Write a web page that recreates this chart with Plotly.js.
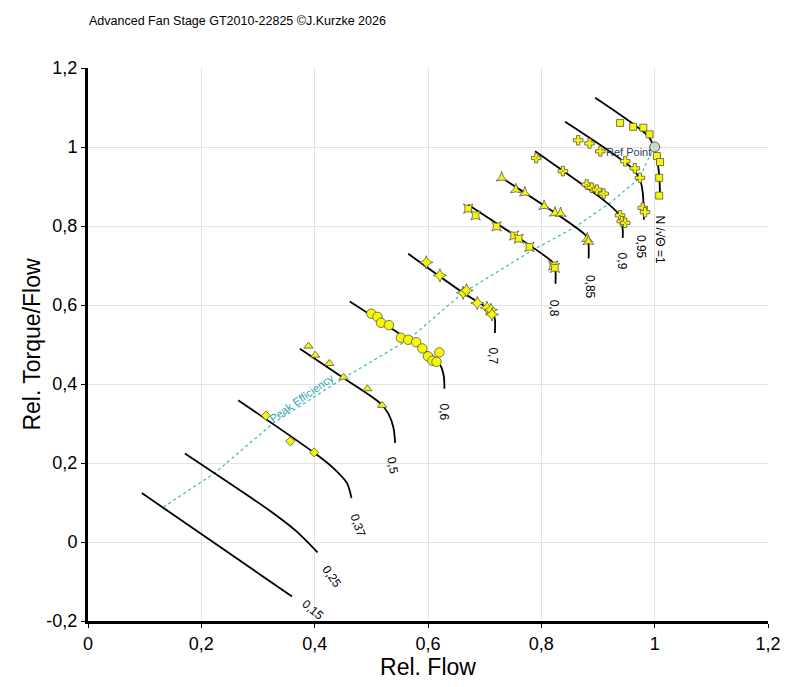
<!DOCTYPE html>
<html>
<head>
<meta charset="utf-8">
<script src="https://cdn.plot.ly/plotly-3.0.1.min.js"></script>
<style>html,body{margin:0;padding:0;background:#fff;}#chart{width:800px;height:687px;}</style>
</head>
<body>
<div id="chart"></div>
<script>
// ---------- DATA ----------
const chartTitle = "Advanced Fan Stage GT2010-22825 ©J.Kurzke 2026";
const xTickVals = [0, 0.2, 0.4, 0.6, 0.8, 1.0, 1.2];
const xTickText = ["0", "0,2", "0,4", "0,6", "0,8", "1", "1,2"];
const yTickVals = [-0.2, 0, 0.2, 0.4, 0.6, 0.8, 1.0, 1.2];
const yTickText = ["-0,2", "0", "0,2", "0,4", "0,6", "0,8", "1", "1,2"];

// speed line names
const speedNames = ["0,15", "0,25", "0,37", "0,5", "0,6", "0,7", "0,8", "0,85", "0,9", "0,95", "N /√Θ =1"];

// speed lines (Rel. Flow, Rel. Torque/Flow)
const line015X = [0.095, 0.360];
const line015Y = [0.124, -0.138];
const line025X = [0.171, 0.327, 0.368, 0.405];
const line025Y = [0.224, 0.073, 0.027, -0.026];
const line037X = [0.265, 0.398, 0.433, 0.457, 0.465];
const line037Y = [0.359, 0.227, 0.187, 0.149, 0.111];
const line050X = [0.374, 0.451, 0.515, 0.530, 0.539, 0.542];
const line050Y = [0.489, 0.415, 0.352, 0.325, 0.290, 0.251];
const line060X = [0.462, 0.592, 0.615, 0.624, 0.628, 0.629];
const line060Y = [0.609, 0.487, 0.462, 0.441, 0.419, 0.388];
const line070X = [0.565, 0.662, 0.704, 0.714, 0.718, 0.718];
const line070Y = [0.730, 0.631, 0.593, 0.580, 0.565, 0.529];
const line080X = [0.671, 0.818, 0.823, 0.825, 0.825];
const line080Y = [0.854, 0.711, 0.701, 0.688, 0.654];
const line085X = [0.730, 0.877, 0.882, 0.8835, 0.8835];
const line085Y = [0.922, 0.778, 0.766, 0.750, 0.718];
const line090X = [0.789, 0.912, 0.933, 0.941, 0.9437, 0.9437];
const line090Y = [0.989, 0.863, 0.836, 0.814, 0.790, 0.770];
const line095X = [0.842, 0.9595, 0.974, 0.979, 0.981];
const line095Y = [1.064, 0.947, 0.918, 0.884, 0.816];
const line100X = [0.895, 0.989, 0.998, 1.004, 1.008, 1.0095];
const line100Y = [1.125, 1.027, 1.002, 0.968, 0.930, 0.871];

// label anchor positions (data coords) and rotation of speed labels
const labelX = [0.397, 0.431, 0.477, 0.538, 0.628, 0.715, 0.824, 0.885, 0.944, 0.977, 1.0095];
const labelY = [-0.172, -0.088, 0.041, 0.193, 0.328, 0.472, 0.591, 0.647, 0.710, 0.748, 0.766];
const labelAngle = [40, 55, 70, 80, 90, 90, 90, 90, 90, 90, 90];

// peak efficiency line
const peakEffX = [0.133, 0.224, 0.327, 0.451, 0.565, 0.662, 0.786, 0.857, 0.921, 0.974, 0.991, 1.0];
const peakEffY = [0.088, 0.175, 0.301, 0.415, 0.512, 0.631, 0.740, 0.795, 0.858, 0.922, 0.977, 1.0];

// reference point
const refX = [1.0];
const refY = [1.0];

// measured data points
const data037X = [0.314, 0.357, 0.399];
const data037Y = [0.320, 0.255, 0.227];
const data050X = [0.389, 0.401, 0.426, 0.451, 0.493, 0.519];
const data050Y = [0.496, 0.473, 0.452, 0.417, 0.388, 0.346];
const data060X = [0.500, 0.511, 0.517, 0.531, 0.552, 0.565, 0.579, 0.590, 0.620, 0.600, 0.608, 0.615];
const data060Y = [0.578, 0.570, 0.555, 0.549, 0.517, 0.512, 0.506, 0.490, 0.480, 0.470, 0.459, 0.456];
const data070X = [0.597, 0.621, 0.662, 0.668, 0.687, 0.704, 0.711, 0.713];
const data070Y = [0.708, 0.675, 0.631, 0.637, 0.605, 0.593, 0.588, 0.576];
const data080X = [0.671, 0.684, 0.721, 0.752, 0.760, 0.779, 0.821, 0.824];
const data080Y = [0.844, 0.827, 0.799, 0.776, 0.768, 0.747, 0.700, 0.694];
const data085X = [0.730, 0.755, 0.771, 0.805, 0.824, 0.834, 0.881, 0.883];
const data085Y = [0.922, 0.892, 0.884, 0.850, 0.833, 0.832, 0.768, 0.761];
const data090X = [0.791, 0.838, 0.880, 0.889, 0.898, 0.910, 0.939, 0.942, 0.948];
const data090Y = [0.972, 0.939, 0.905, 0.897, 0.892, 0.882, 0.827, 0.812, 0.808];
const data095X = [0.865, 0.885, 0.904, 0.948, 0.965, 0.974, 0.979, 0.983];
const data095Y = [1.017, 1.009, 0.989, 0.964, 0.946, 0.922, 0.846, 0.835];
const data100X = [0.939, 0.962, 0.980, 0.991, 1.004, 1.0095, 1.008, 1.008];
const data100Y = [1.061, 1.051, 1.049, 1.032, 0.977, 0.962, 0.922, 0.877];

// ---------- STYLE ----------
const FONT = "Liberation Sans, Arial, Helvetica, sans-serif";
const lineStyle = {color: "#000000", width: 1.8, shape: "spline", smoothing: 0.8};
const markerLine = {color: "#555555", width: 0.8};
const yellow = "#f8f800";

const speedLines = [
  [line015X, line015Y], [line025X, line025Y], [line037X, line037Y], [line050X, line050Y],
  [line060X, line060Y], [line070X, line070Y], [line080X, line080Y], [line085X, line085Y],
  [line090X, line090Y], [line095X, line095Y], [line100X, line100Y]
];

const pointSets = [
  [data037X, data037Y, "diamond", 7],
  [data050X, data050Y, "triangle-up", 8],
  [data060X, data060Y, "circle", 9.5],
  [data070X, data070Y, "star-diamond", 9.5],
  [data080X, data080Y, "star-square", 8.5],
  [data085X, data085Y, "star-triangle-up", 8],
  [data090X, data090Y, "cross-dot", 8],
  [data095X, data095Y, "cross", 8],
  [data100X, data100Y, "square", 7]
];

const traces = [];

traces.push({
  x: peakEffX, y: peakEffY, type: "scatter", mode: "lines",
  line: {color: "#3db6b6", width: 1.2, dash: "dot"}, hoverinfo: "skip"
});

speedLines.forEach((s, i) => {
  traces.push({x: s[0], y: s[1], type: "scatter", mode: "lines", name: speedNames[i], line: lineStyle});
});

pointSets.forEach(p => {
  traces.push({
    x: p[0], y: p[1], type: "scatter", mode: "markers",
    marker: {symbol: p[2], size: p[3], color: yellow, line: markerLine}
  });
});

traces.push({
  x: refX, y: refY, type: "scatter", mode: "markers",
  marker: {symbol: "circle", size: 10, color: "#c9dcc9", line: {color: "#556655", width: 1}}
});

const annotations = speedNames.map((n, i) => ({
  x: labelX[i], y: labelY[i], xref: "x", yref: "y", text: n, showarrow: false,
  textangle: labelAngle[i], font: {family: FONT, size: 12, color: "#000"}
}));

annotations.push({
  x: 0.953, y: 0.988, xref: "x", yref: "y", text: "Ref Point", showarrow: false,
  font: {family: FONT, size: 11, color: "#2f3f52"}
});
annotations.push({
  x: 0.377, y: 0.364, xref: "x", yref: "y", text: "Peak Efficiency", showarrow: false,
  textangle: -35, font: {family: FONT, size: 11, color: "#2aa8a8"}
});

const axisCommon = {
  showline: true, linecolor: "#000", linewidth: 3, mirror: false,
  showgrid: true, gridcolor: "#e3e3e3", gridwidth: 1, zeroline: false,
  ticks: "outside", ticklen: 4, tickwidth: 1, tickcolor: "#000",
  tickfont: {family: FONT, size: 18, color: "#000"}, tickmode: "array"
};

const layout = {
  width: 800, height: 687,
  margin: {l: 88, r: 32, t: 68, b: 66},
  paper_bgcolor: "#fff", plot_bgcolor: "#fff",
  showlegend: false,
  font: {family: FONT},
  title: {
    text: chartTitle, font: {family: FONT, size: 12.5, color: "#000"},
    xref: "container", yref: "container", x: 89 / 800, xanchor: "left", y: 1 - 21 / 687, yanchor: "middle"
  },
  xaxis: Object.assign({}, axisCommon, {
    range: [0, 1.2], tickvals: xTickVals, ticktext: xTickText,
    title: {text: "Rel. Flow", font: {family: FONT, size: 23, color: "#000"}, standoff: 2}
  }),
  yaxis: Object.assign({}, axisCommon, {
    range: [-0.2, 1.2], tickvals: yTickVals, ticktext: yTickText,
    title: {text: "Rel. Torque/Flow", font: {family: FONT, size: 23, color: "#000"}, standoff: 0}
  }),
  annotations: annotations
};

Plotly.newPlot("chart", traces, layout, {displayModeBar: false, staticPlot: true});
</script>
</body>
</html>
